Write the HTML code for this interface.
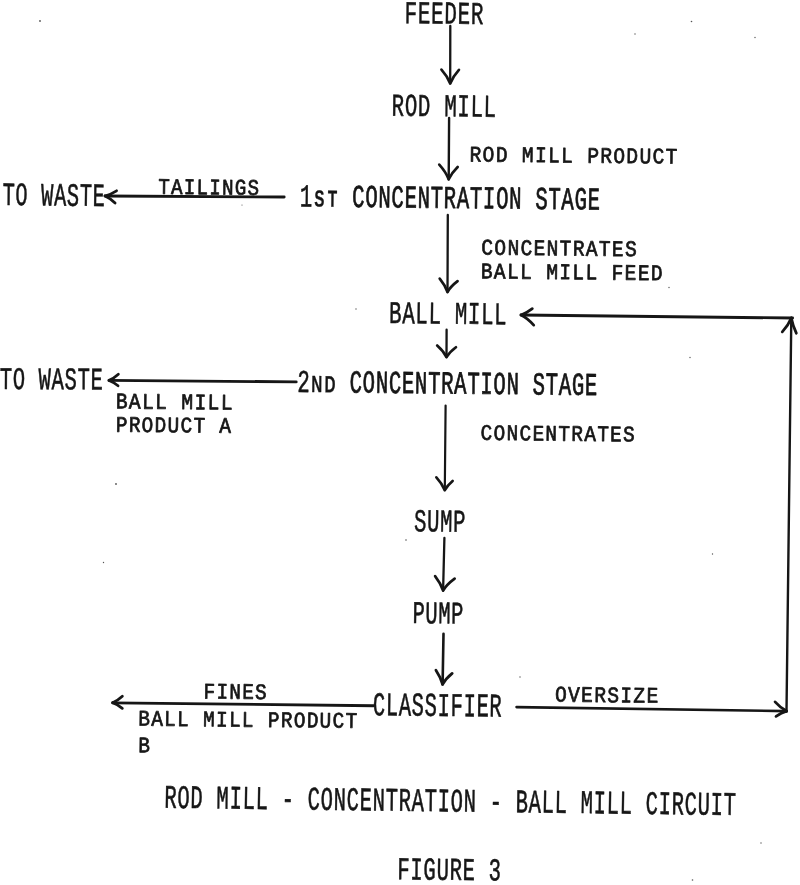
<!DOCTYPE html>
<html lang="en">
<head>
<meta charset="utf-8">
<title>Rod Mill - Concentration - Ball Mill Circuit</title>
<style>
html,body{margin:0;padding:0;background:#fff;}
body{width:800px;height:885px;overflow:hidden;}
svg{display:block;will-change:transform;}
text{font-family:"Liberation Mono","DejaVu Sans Mono",monospace;font-size:20px;fill:#161616;stroke:#161616;stroke-linejoin:round;vector-effect:non-scaling-stroke;white-space:pre;}
.sc{font-family:"Liberation Sans","DejaVu Sans",sans-serif;font-size:14.6px;font-weight:bold;stroke-width:0.2px;}
.sp circle{fill:#555;}
.ln path{fill:none;stroke:#161616;stroke-linecap:round;stroke-linejoin:round;}
</style>
</head>
<body>
<svg width="800" height="885" viewBox="0 0 800 885">
<rect width="800" height="885" fill="#fff"/>
<g class="big">
<text transform="translate(404.51 23.20) rotate(0.6) scale(1.0481 1.5892)" stroke-width="0.5" letter-spacing="0.632">FEEDER</text>
<text transform="translate(391.61 115.68) rotate(0.6) scale(1.0400 1.5882)" stroke-width="0.5" letter-spacing="0.632">ROD MILL</text>
<text transform="translate(2.50 204.99) rotate(0.6) scale(1.0187 1.6269)" stroke-width="0.5" letter-spacing="0.632">TO WASTE</text>
<text transform="translate(299.76 206.43) rotate(0.6) scale(1.0356 1.5916)" stroke-width="0.5" letter-spacing="0.632">1<tspan class="sc" x="14.08 27.12">ST</tspan><tspan x="37.90"> CONCENTRATION STAGE</tspan></text>
<text transform="translate(389.11 323.05) rotate(0.6) scale(1.0388 1.5778)" stroke-width="0.5" letter-spacing="0.632">BALL MILL</text>
<text transform="translate(-0.31 388.95) rotate(0.3) scale(1.0268 1.5781)" stroke-width="0.5" letter-spacing="0.632">TO WASTE</text>
<text transform="translate(297.20 391.93) rotate(0.6) scale(1.0351 1.5993)" stroke-width="0.5" letter-spacing="0.632">2<tspan class="sc" x="13.68 26.31">ND</tspan><tspan x="37.90"> CONCENTRATION STAGE</tspan></text>
<text transform="translate(413.95 531.23) rotate(0.6) scale(1.0304 1.5915)" stroke-width="0.5" letter-spacing="0.632">SUMP</text>
<text transform="translate(412.39 622.99) rotate(0.6) scale(1.0214 1.5736)" stroke-width="0.5" letter-spacing="0.632">PUMP</text>
<text transform="translate(372.72 715.21) rotate(0.6) scale(1.0259 1.6587)" stroke-width="0.5" letter-spacing="0.632">CLASSIFIER</text>
<text transform="translate(164.37 807.75) rotate(0.73) scale(1.0294 1.6464)" stroke-width="0.5" letter-spacing="0.632">ROD MILL - CONCENTRATION - BALL MILL CIRCUIT</text>
<text transform="translate(397.29 879.29) rotate(0.6) scale(1.0321 1.5890)" stroke-width="0.5" letter-spacing="0.632">FIGURE 3</text>
</g>
<g class="small">
<text transform="translate(469.55 161.44) rotate(0.6) scale(0.9803 1.1077)" stroke-width="0.7" letter-spacing="1.334">ROD MILL PRODUCT</text>
<text transform="translate(158.14 193.80) rotate(0.6) scale(0.9573 1.1077)" stroke-width="0.7" letter-spacing="1.334">TAILINGS</text>
<text transform="translate(481.27 254.54) rotate(0.6) scale(0.9795 1.1077)" stroke-width="0.7" letter-spacing="1.334">CONCENTRATES</text>
<text transform="translate(480.80 278.26) rotate(0.6) scale(0.9811 1.1077)" stroke-width="0.7" letter-spacing="1.334">BALL MILL FEED</text>
<text transform="translate(115.69 408.35) rotate(0.6) scale(0.9850 1.1077)" stroke-width="0.7" letter-spacing="1.334">BALL MILL</text>
<text transform="translate(115.71 431.65) rotate(0.6) scale(0.9720 1.1077)" stroke-width="0.7" letter-spacing="1.334">PRODUCT A</text>
<text transform="translate(480.58 439.85) rotate(0.6) scale(0.9718 1.1077)" stroke-width="0.7" letter-spacing="1.334">CONCENTRATES</text>
<text transform="translate(203.51 698.41) rotate(0.6) scale(0.9670 1.1077)" stroke-width="0.7" letter-spacing="1.334">FINES</text>
<text transform="translate(138.21 725.57) rotate(0.6) scale(0.9721 1.1077)" stroke-width="0.7" letter-spacing="1.334">BALL MILL PRODUCT</text>
<text transform="translate(138.22 752.14) rotate(0.6) scale(0.9711 1.1077)" stroke-width="0.7" letter-spacing="1.334">B</text>
<text transform="translate(554.97 701.58) rotate(0.6) scale(0.9796 1.1077)" stroke-width="0.7" letter-spacing="1.334">OVERSIZE</text>
</g>
<g class="sp"><circle cx="40" cy="21" r="0.9"/><circle cx="691.5" cy="21.5" r="0.8"/><circle cx="635" cy="34" r="0.7"/><circle cx="755" cy="37.5" r="0.7"/><circle cx="669" cy="287.5" r="0.7"/><circle cx="242" cy="205" r="0.6"/><circle cx="116" cy="484" r="0.9"/><circle cx="103.5" cy="562.5" r="0.7"/><circle cx="356" cy="309" r="0.7"/><circle cx="690" cy="357.5" r="0.7"/><circle cx="712.5" cy="554" r="0.7"/><circle cx="406" cy="540" r="0.8"/><circle cx="761" cy="843" r="0.7"/><circle cx="692.5" cy="880" r="0.8"/><circle cx="520" cy="677" r="0.7"/></g>
<g class="ln">
<path d="M450.3 26L450.2 83.4" stroke-width="2.3"/><path d="M441.45 69.63Q447.58 76.52 450.2 83.4M458.94 69.82Q452.83 76.61 450.2 83.4" stroke-width="2.7"/>
<path d="M449.1 118L448.7 179.3" stroke-width="2.4"/><path d="M439.26 164.62Q445.89 171.97 448.7 179.3M457.68 166.98Q451.41 173.13 448.7 179.3" stroke-width="2.7"/>
<path d="M447.8 215L447.5 292" stroke-width="2.3"/><path d="M439.71 278.65Q445.17 285.33 447.5 292M457.57 281.19Q450.53 286.59 447.5 292" stroke-width="2.7"/>
<path d="M446.6 329.7L446.5 357.2" stroke-width="2.3"/><path d="M437.16 345.55Q443.71 351.38 446.5 357.2M455.96 347.28Q449.35 352.23 446.5 357.2" stroke-width="2.7"/>
<path d="M445.6 405.6L444.8 490.2" stroke-width="2.2"/><path d="M436.37 477.32Q442.29 483.77 444.8 490.2M452.62 480.93Q447.16 485.55 444.8 490.2" stroke-width="2.7"/>
<path d="M444.4 538L443.1 590.6" stroke-width="2.3"/><path d="M435.09 576.06Q440.77 583.37 443.1 590.6M454.65 578.67Q446.63 584.58 443.1 590.6" stroke-width="2.7"/>
<path d="M443.5 633.8L442.6 684.4" stroke-width="2.6"/><path d="M435.94 670.24Q440.65 677.34 442.6 684.4M452.17 673.45Q445.51 678.89 442.6 684.4" stroke-width="2.8"/>
<path d="M284.2 197L105 196" stroke-width="2.8"/><path d="M116.55 190.82Q110.77 194.46 105 196M115.07 203.08Q110.04 198.13 105 196" stroke-width="2.8"/>
<path d="M296.2 381.9L109 380.4" stroke-width="2.9"/><path d="M118.35 374.29Q113.66 378.58 109 380.4M118.02 385.76Q113.52 382.02 109 380.4" stroke-width="2.8"/>
<path d="M373.7 705.75L112.6 702.8" stroke-width="2.8"/><path d="M122.35 696.3Q117.46 700.87 112.6 702.8M122.3 708.28Q117.46 704.47 112.6 702.8" stroke-width="2.8"/>
<path d="M792.6 318L521 315" stroke-width="2.9"/><path d="M532.3 308.71Q526.64 313.14 521 315M533.71 325.12Q527.38 318.06 521 315" stroke-width="2.8"/>
<path d="M516.6 707.1L786.6 711.1" stroke-width="2.7"/><path d="M775.08 701.89Q780.82 708.3 786.6 711.1M776.03 716.34Q781.33 712.64 786.6 711.1" stroke-width="2.8"/>
<path d="M786.5 711.5L791.3 318" stroke-width="2.4"/><path d="M782.29 331.84Q788.56 324.94 791.3 318M796.31 333.2Q792.76 325.59 791.3 318" stroke-width="2.8"/>
</g>
</svg>
</body>
</html>
